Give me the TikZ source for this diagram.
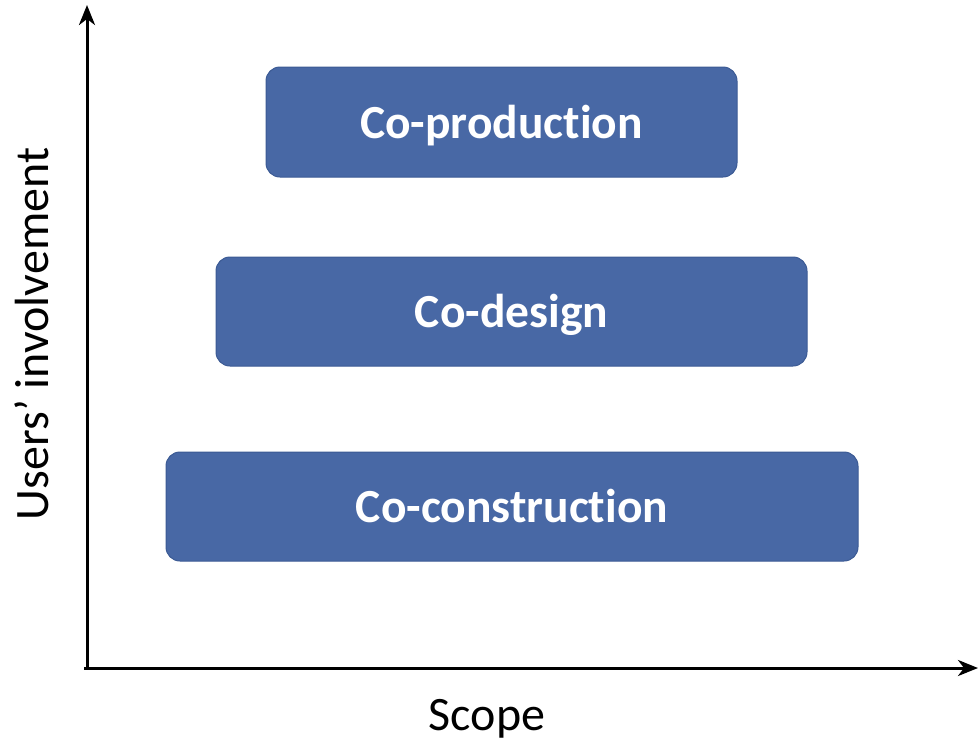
\documentclass[tikz,border=0pt]{standalone}
\usepackage{fontspec}
\setmainfont{Carlito}[Ligatures={NoCommon}]
\usetikzlibrary{arrows.meta}
\definecolor{boxfill}{HTML}{4868A5}
\definecolor{boxedge}{HTML}{3B5A94}
\tikzset{
  level/.style={draw=boxedge, fill=boxfill, line width=1pt, rounded corners=14pt,
    text=white, font=\bfseries\fontsize{47.5}{54}\selectfont, inner sep=0pt,
    text height=42pt, text depth=10pt},
  axis/.style={line width=3pt, -{Stealth[length=20pt,width=16pt,inset=6pt]}}
}
\begin{document}
\begin{tikzpicture}[x=1pt,y=-1pt]
\useasboundingbox (0,0) rectangle (978,742);
\node[level, minimum width=471pt, minimum height=110pt] (prod) at (501.5,122) {Co-production};
\node[level, minimum width=591pt, minimum height=109pt] (des) at (511.5,311.5) {Co-design};
\node[level, minimum width=692pt, minimum height=109pt] (cons) at (512,506.5) {Co-construction};
\coordinate (origin) at (87,668);
\coordinate (ytop) at (87,5);
\coordinate (xend) at (978,668);
\coordinate (ostart) at (84,668);
\draw[axis] (origin) -- (ytop);
\draw[axis] (ostart) -- (xend);
\node[font=\fontsize{48}{56}\selectfont, inner sep=0pt] (xl) at (487,719) {Scope};
\node[font=\fontsize{48}{56}\selectfont, inner sep=0pt, rotate=90] (yl) at (32,334) {Users’ involvement};
\end{tikzpicture}
\end{document}
